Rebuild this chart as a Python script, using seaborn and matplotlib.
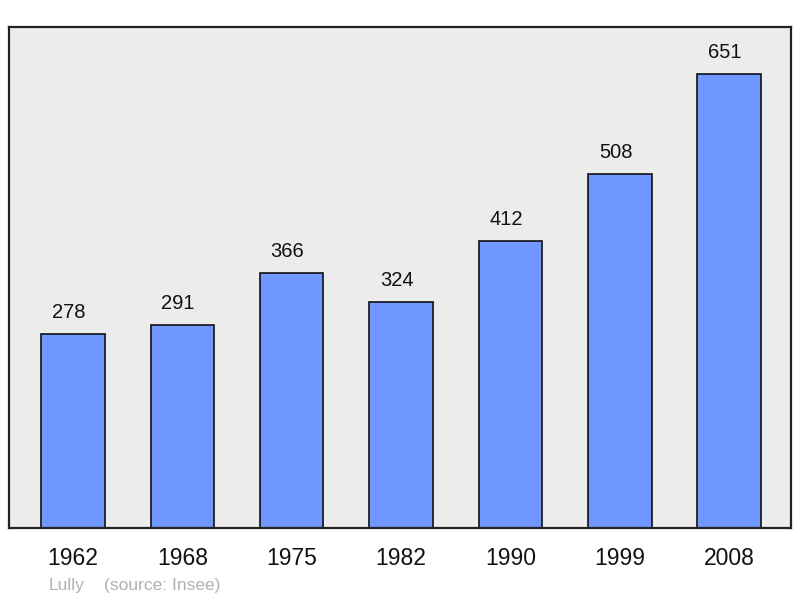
import pandas as pd
import matplotlib
matplotlib.use("Agg")
import matplotlib.pyplot as plt
import seaborn as sns

# Datos de poblacion
annees = ["1962", "1968", "1975", "1982", "1990", "1999", "2008"]
population = [278, 291, 366, 324, 412, 508, 651]

df = pd.DataFrame({"annee": annees, "pop": population})

sns.set_style("white")
plt.rcParams["font.family"] = ["Liberation Sans", "DejaVu Sans"]

fig = plt.figure(figsize=(8, 5.98), dpi=100)
ax = fig.add_axes([9 / 800, 70 / 598, 782 / 800, 501 / 598])
ax.set_facecolor("#ececec")

sns.barplot(data=df, x="annee", y="pop", color="#7096ff", saturation=1,
            width=0.58, edgecolor="#111111", linewidth=1.2, ax=ax)

# etiquetas de valor, un poco a la izquierda como en el original
for i, v in enumerate(population):
    ax.annotate(str(v), (i, v), xytext=(-3, 11.5), textcoords="offset points",
                ha="center", va="baseline", fontsize=14.5, color="#111111")

ax.set_xlim(-0.585, 6.565)
ax.set_ylim(0, 718)
ax.set_xlabel("")
ax.set_ylabel("")
ax.set_yticks([])
ax.tick_params(axis="x", length=0, pad=14, labelsize=16.5, labelcolor="#111111")
for s in ax.spines.values():
    s.set_visible(True)
    s.set_color("#222222")
    s.set_linewidth(1.6)

fig.text(49 / 800, 1 - 590 / 598, "Lully", fontsize=12.5, color="#b0b0b0",
         ha="left", va="baseline")
fig.text(104 / 800, 1 - 590 / 598, "(source: Insee)", fontsize=12.5,
         color="#b0b0b0", ha="left", va="baseline")

fig.savefig("out.png", dpi=100)
